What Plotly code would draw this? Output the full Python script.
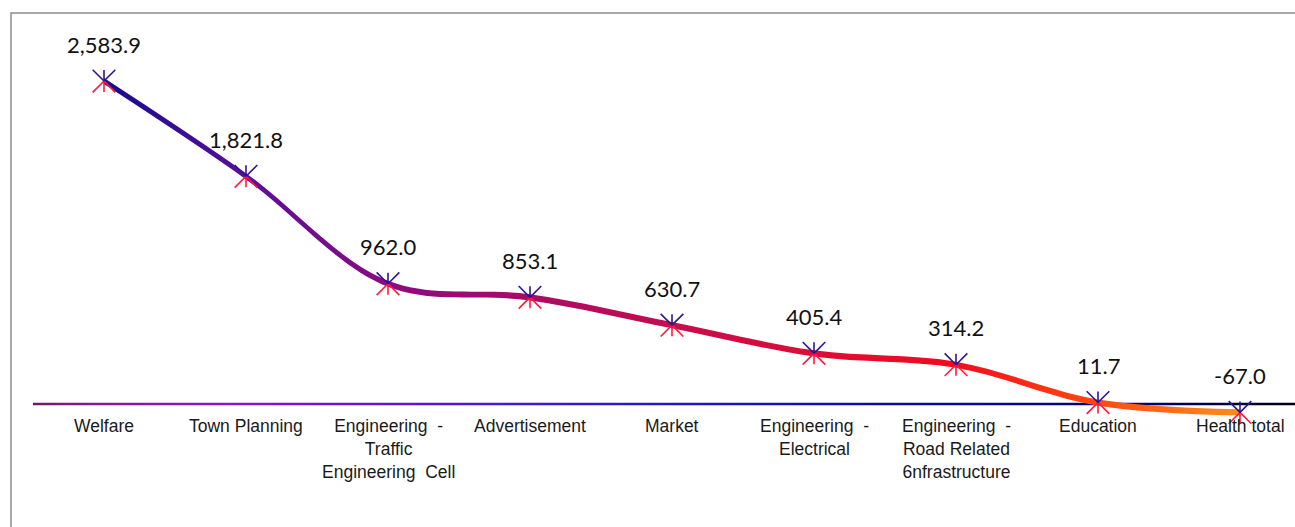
import plotly.graph_objects as go

categories = ["Welfare", "Town Planning", "Engineering&nbsp; -<br>Traffic<br>Engineering&nbsp; Cell",
              "Advertisement", "Market", "Engineering&nbsp; -<br>Electrical",
              "Engineering&nbsp; -<br>Road Related<br>6nfrastructure", "Education", "Health total"]
values = [2583.9, 1821.8, 962.0, 853.1, 630.7, 405.4, 314.2, 11.7, -67.0]

W, H = 1295, 527
ML, MT = 11, 13
plot_w, plot_h = W - ML, H - MT
px_per_cat = 142.0
x0_px = 104.0
x_lo = -(x0_px - ML) / px_per_cat
x_hi = x_lo + plot_w / px_per_cat
px_per_unit = 0.125
zero_px = 404.0
y_top = (zero_px - MT) / px_per_unit
y_bot = -(H - zero_px) / px_per_unit

xs = list(range(len(categories)))

line_half = 3.1 / px_per_unit
axis_half = 1.3 / px_per_unit

line_scale = [[0, '#140a8c'], [0.125, '#5a0f9a'], [0.25, '#8c0a82'], [0.375, '#aa0a66'],
              [0.5, '#c60c4e'], [0.625, '#de0c36'], [0.75, '#f20c1e'], [0.875, '#ff4a10'],
              [1, '#ff8c1e']]
axis_scale = [[0, '#6e1a5e'], [0.05, '#8a1896'], [0.15, '#8c12cc'], [0.3, '#5a14d6'],
              [0.45, '#2a1ccc'], [0.6, '#1010b0'], [0.75, '#08088a'], [0.88, '#000060'],
              [1, '#000000']]

fig = go.Figure()

# zero axis line (gradient band)
fig.add_trace(go.Scatter(x=[-0.5, x_hi + 0.2], y=[-axis_half, -axis_half], mode='lines',
                         line=dict(width=0), hoverinfo='skip', showlegend=False))
fig.add_trace(go.Scatter(x=[-0.5, x_hi + 0.2], y=[axis_half, axis_half], mode='lines',
                         line=dict(width=0), fill='tonexty',
                         fillgradient=dict(type='horizontal', colorscale=axis_scale),
                         hoverinfo='skip', showlegend=False))

# main smoothed line (gradient band)
fig.add_trace(go.Scatter(x=xs, y=[v - line_half for v in values], mode='lines',
                         line=dict(width=0, shape='spline', smoothing=1),
                         hoverinfo='skip', showlegend=False))
fig.add_trace(go.Scatter(x=xs, y=[v + line_half for v in values], mode='lines',
                         line=dict(width=0, shape='spline', smoothing=1), fill='tonexty',
                         fillgradient=dict(type='horizontal', colorscale=line_scale),
                         hoverinfo='skip', showlegend=False))

# star markers built from rays (standoff pushes opposite to angle)
blue, red = '#2c1496', '#ff1a3c'
rays = [(-45, 16.0, red), (45, 16.0, red), (0, 11.0, red),
        (135, 16.0, blue), (225, 16.0, blue), (180, 11.0, blue)]
for ang, L, col in rays:
    fig.add_trace(go.Scatter(x=xs, y=values, mode='markers', hoverinfo='skip', showlegend=False,
                             marker=dict(symbol='line-ns-open', size=L / 1.4, angle=ang,
                                         standoff=L / 2, color=col,
                                         line=dict(width=1.6, color=col))))

annotations = []
for xi, v in zip(xs, values):
    annotations.append(dict(x=xi, y=v, xref='x', yref='y', text=f"{v:,.1f}", showarrow=False,
                            yshift=37, font=dict(family='Lato', size=22, color='#111111')))
for xi, c in zip(xs, categories):
    annotations.append(dict(x=xi, y=0, xref='x', yref='y', text=c, showarrow=False,
                            yanchor='top', yshift=-10,
                            font=dict(family='Liberation Sans', size=17.5, color='#1a1a1a')))

fig.update_layout(
    width=W, height=H,
    margin=dict(l=ML, r=0, t=MT, b=0),
    paper_bgcolor='white', plot_bgcolor='white',
    xaxis=dict(range=[x_lo, x_hi], visible=False),
    yaxis=dict(range=[y_bot, y_top], visible=False),
    annotations=annotations,
    shapes=[dict(type='rect', xref='paper', yref='paper', x0=0, x1=1.05, y0=-0.05, y1=1,
                 line=dict(color='#8c8c8c', width=1.5), layer='above')],
)

fig.write_html("out.html", config={'displayModeBar': False},
               post_script="document.body.style.margin='0';document.body.style.overflow='hidden';")
